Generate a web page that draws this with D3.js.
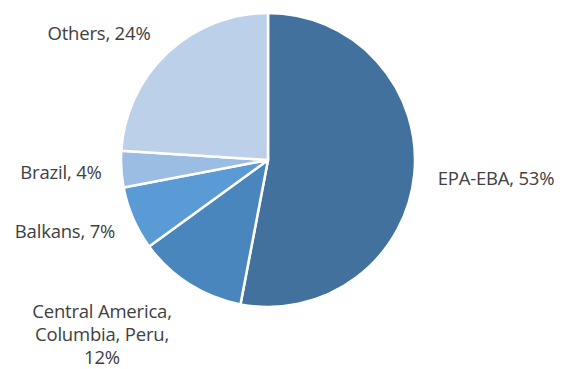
<!DOCTYPE html>
<html>
<head>
<meta charset="utf-8">
<script src="https://cdn.jsdelivr.net/npm/d3@7"></script>
<style>
  body { margin: 0; background: #fff; }
  svg text { font-family: "Open Sans", sans-serif; font-size: 18.5px; fill: #404040; letter-spacing: -0.2px; }
</style>
</head>
<body>
<svg id="chart" width="562" height="369"></svg>
<script>
// slice data, clockwise from 12 o'clock
const categories = ["EPA-EBA", "Central America, Columbia, Peru", "Balkans", "Brazil", "Others"];
const shares = [53, 12, 7, 4, 24];
const colours = ["#41719c", "#4a86be", "#5b9bd5", "#9bbde3", "#bdd0ea"];

// label placement (lines, anchor position)
const labelLines = [
  ["EPA-EBA, 53%"],
  ["Central America,", "Columbia, Peru,", "12%"],
  ["Balkans, 7%"],
  ["Brazil, 4%"],
  ["Others, 24%"]
];
const labelPos = [[496, 177], [102, 310], [65, 230], [61, 171], [99, 32]];

const cx = 268, cy = 160, radius = 147;

const svg = d3.select("#chart");
const g = svg.append("g").attr("transform", "translate(" + cx + "," + cy + ")");

const pie = d3.pie().sort(null).value(d => d.value);
const arc = d3.arc().innerRadius(0).outerRadius(radius);

const data = categories.map((c, i) => ({ name: c, value: shares[i], colour: colours[i] }));

g.selectAll("path")
  .data(pie(data))
  .enter()
  .append("path")
  .attr("d", arc)
  .attr("fill", d => d.data.colour)
  .attr("stroke", "#fff")
  .attr("stroke-width", 2.5)
  .attr("stroke-linejoin", "round");

// labels
labelLines.forEach((lines, i) => {
  const t = svg.append("text")
    .attr("x", labelPos[i][0])
    .attr("y", labelPos[i][1])
    .attr("text-anchor", "middle")
    .attr("dominant-baseline", "central");
  lines.forEach((l, j) => {
    t.append("tspan")
      .attr("x", labelPos[i][0])
      .attr("dy", j === 0 ? 0 : 23)
      .text(l);
  });
});
</script>
</body>
</html>
